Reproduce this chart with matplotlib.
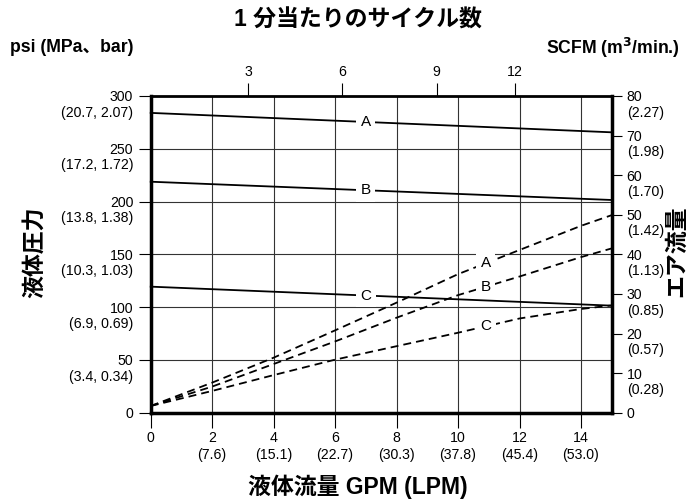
import matplotlib
matplotlib.use("Agg")
import matplotlib.pyplot as plt
import numpy as np

plt.rcParams['font.family'] = ['Liberation Sans', 'Noto Sans CJK JP', 'DejaVu Sans']

# ---- data ----
gpm_ticks = [0, 2, 4, 6, 8, 10, 12, 14]
lpm_labels = ['', '(7.6)', '(15.1)', '(22.7)', '(30.3)', '(37.8)', '(45.4)', '(53.0)']
psi_ticks = [0, 50, 100, 150, 200, 250, 300]
psi_sub = ['', '(3.4, 0.34)', '(6.9, 0.69)', '(10.3, 1.03)', '(13.8, 1.38)', '(17.2, 1.72)', '(20.7, 2.07)']
scfm_ticks = [0, 10, 20, 30, 40, 50, 60, 70, 80]
scfm_sub = ['', '(0.28)', '(0.57)', '(0.85)', '(1.13)', '(1.42)', '(1.70)', '(1.98)', '(2.27)']
cycle_ticks = [3, 6, 9, 12]
cycle_tick_gpm = [3.17, 6.23, 9.30, 11.86]

# fluid pressure (psi) vs fluid flow (GPM), solid lines
press_x = [0, 7, 15]
press_A = [284, 275.4, 265.6]
press_B = [218.8, 210.7, 201.5]
press_C = [119.4, 111.0, 101.4]

# air consumption (SCFM) vs fluid flow (GPM), dashed lines
air_x = [0, 2, 4, 6, 8, 10, 12, 14, 15]
air_A = [1.7, 7.6, 13.9, 20.8, 27.8, 35.0, 41.1, 47.2, 49.9]
air_B = [1.7, 6.6, 12.3, 18.0, 24.0, 29.7, 34.4, 39.3, 41.5]
air_C = [1.7, 5.5, 9.5, 13.4, 16.8, 20.2, 23.8, 26.2, 27.1]
series_names = ['A', 'B', 'C']

TFS = 10.2  # tick label size

# ---- figure ----
fig = plt.figure(figsize=(6.88, 5.04), dpi=100)
ax = fig.add_axes([150.7/688, 1-412.7/504, (611.7-150.7)/688, (412.7-96)/504])
ax.set_xlim(0, 15)
ax.set_ylim(0, 300)

for s in ax.spines.values():
    s.set_linewidth(2.5)
ax.spines['top'].set_linewidth(2.0)

# grid
for x in gpm_ticks[1:]:
    ax.axvline(x, color='#333333', lw=0.8, zorder=1)
for y in psi_ticks[1:-1]:
    ax.axhline(y, color='#333333', lw=0.8, zorder=1)

ax.set_xticks(gpm_ticks)
ax.set_xticklabels([str(v) for v in gpm_ticks], fontsize=TFS)
ax.set_yticks(psi_ticks)
ax.set_yticklabels([str(v) for v in psi_ticks], fontsize=TFS)
ax.tick_params(axis='x', direction='out', length=10.8, width=0.8, pad=2.5)
ax.tick_params(axis='y', direction='out', length=8.6, width=0.8, pad=4)

for v, s in zip(gpm_ticks, lpm_labels):
    if s:
        ax.annotate(s, xy=(v, 0), xycoords=('data', 'axes fraction'),
                    xytext=(0, -30.5), textcoords='offset points',
                    ha='center', va='center', fontsize=TFS)
for v, s in zip(psi_ticks, psi_sub):
    if s:
        ax.annotate(s, xy=(0, v), xycoords=('axes fraction', 'data'),
                    xytext=(-12.7, -12), textcoords='offset points',
                    ha='right', va='center', fontsize=TFS)

# right axis
axr = ax.twinx()
axr.set_ylim(0, 80)
axr.set_yticks(scfm_ticks)
axr.set_yticklabels([str(v) for v in scfm_ticks], fontsize=TFS)
axr.tick_params(axis='y', direction='out', length=7.2, width=0.8, pad=3.5)
for s in axr.spines.values():
    s.set_visible(False)
for v, s in zip(scfm_ticks, scfm_sub):
    if s:
        axr.annotate(s, xy=(1, v), xycoords=('axes fraction', 'data'),
                     xytext=(11, -12), textcoords='offset points',
                     ha='left', va='center', fontsize=TFS)

# top axis
axt = ax.secondary_xaxis('top')
axt.set_xticks(cycle_tick_gpm)
axt.set_xticklabels([str(v) for v in cycle_ticks], fontsize=TFS)
axt.tick_params(axis='x', direction='out', length=9.4, width=0.8, pad=3)
axt.spines['top'].set_visible(False)

# solid pressure lines
box = dict(boxstyle='square,pad=0.3', fc='white', ec='none')
for name, ys in zip(series_names, [press_A, press_B, press_C]):
    ax.plot(press_x, ys, color='black', lw=1.3, zorder=3, clip_on=False)
    lx = 7.0
    ax.text(lx, np.interp(lx, press_x, ys), name, ha='center', va='center',
            fontsize=11, zorder=4, bbox=box)

# dashed air lines
for name, ys in zip(series_names, [air_A, air_B, air_C]):
    axr.plot(air_x, ys, color='black', lw=1.3, dashes=(4.4, 2.8), zorder=3)
    lx = 10.9
    axr.text(lx, np.interp(lx, air_x, ys), name, ha='center', va='center',
             fontsize=11, zorder=4, bbox=box)

# texts
fig.text(358/688, 1-20/504, '1 分当たりのサイクル数', ha='center', va='center',
         fontsize=16.5, fontweight='bold')
fig.text(10/688, 1-48/504, 'psi (MPa、bar)', ha='left', va='center',
         fontsize=12.7, fontweight='bold')
fig.text(680/688, 1-48/504, 'SCFM (m$^\\mathbf{3}$/min.)', ha='right', va='center',
         fontsize=12.7, fontweight='bold')
fig.text(34/688, 1-252/504, '液体圧力', ha='center', va='center', rotation=90,
         fontsize=16.5, fontweight='bold')
fig.text(677/688, 1-251/504, 'エア流量', ha='center', va='center', rotation=90,
         fontsize=16.5, fontweight='bold')
fig.text(358/688, 1-487/504, '液体流量 GPM (LPM)', ha='center', va='center',
         fontsize=16.5, fontweight='bold')

fig.savefig('out.png', dpi=100)
